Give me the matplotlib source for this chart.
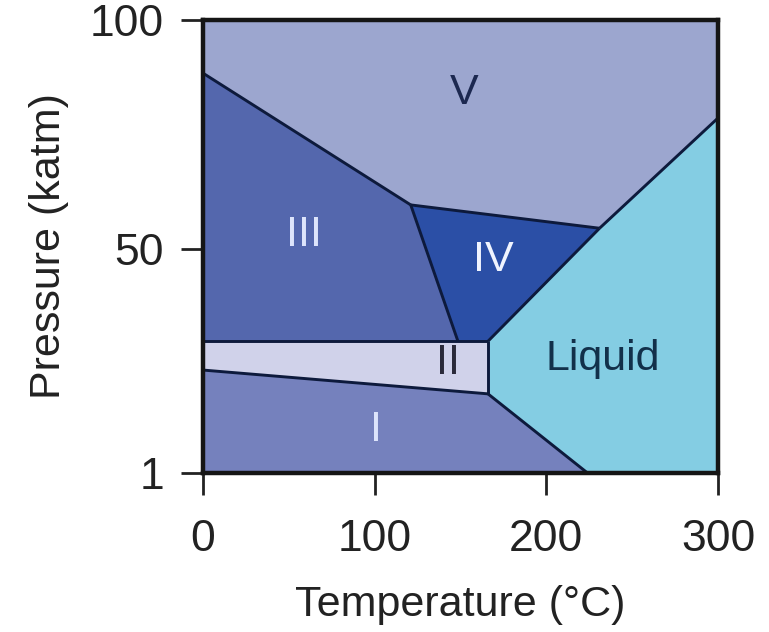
import matplotlib
matplotlib.use("Agg")
import matplotlib.pyplot as plt

plt.rcParams['font.family'] = ['Liberation Sans', 'DejaVu Sans']

# ---- data: key points (Temperature degC, Pressure katm) ----
A = (0, 88.4)      # V/III at left edge
B = (121, 59.6)    # III/IV/V triple point
C = (231, 54.5)    # IV/V/Liquid triple point
D = (300, 78.6)    # V/Liquid at right edge
E = (148.5, 29.8)  # II/III/IV triple point
F = (166, 29.8)    # II/IV/Liquid triple point
G = (166, 18.3)    # I/II/Liquid triple point
H = (0, 23.5)      # I/II at left edge
J = (224, 1.0)     # I/Liquid at bottom
II_left = (0, 29.8)

x_ticks = [0, 100, 200, 300]
y_ticks = [1, 50, 100]
x_range = (0, 300)
y_range = (1, 100)

regions = {
    "V": [(0, 100), (300, 100), D, C, B, A],
    "III": [A, B, E, II_left],
    "IV": [B, C, F, E],
    "II": [II_left, F, G, H],
    "I": [H, G, J, (0, 1)],
    "Liquid": [F, C, D, (300, 1), J, G],
}
region_colors = {
    "V": "#9ca6cf",
    "III": "#5467ad",
    "IV": "#2b4fa6",
    "II": "#d0d2ea",
    "I": "#7581bd",
    "Liquid": "#84cde3",
}
boundaries = [
    [A, B], [B, C], [C, D], [B, E], [C, F],
    [II_left, F], [F, G], [H, G], [G, J],
]
labels = [
    ("V", (152, 84), "#1c2850"),
    ("III", (59, 53), "#dde4fb"),
    ("IV", (169, 47.5), "#f0f4ff"),
    ("II", (143, 25), "#2a2a3a"),
    ("Liquid", (233, 26), "#12304a"),
    ("I", (101, 10.5), "#dde4fb"),
]

fig = plt.figure(figsize=(7.69, 6.32), dpi=100)
ax = fig.add_axes([0.264, 0.2516, 0.6697, 0.7166])

for name, pts in regions.items():
    xs = [p[0] for p in pts]
    ys = [p[1] for p in pts]
    ax.fill(xs, ys, color=region_colors[name], lw=0, zorder=1)

for seg in boundaries:
    ax.plot([seg[0][0], seg[1][0]], [seg[0][1], seg[1][1]],
            color="#0d1a3c", lw=2.1, zorder=2, solid_capstyle='butt')

for text, (tx, ty), col in labels:
    ax.text(tx, ty, text, color=col, fontsize=31, ha='center', va='center', zorder=3)

ax.set_xlim(*x_range)
ax.set_ylim(*y_range)
ax.set_xticks(x_ticks)
ax.set_yticks(y_ticks)
ax.tick_params(axis='both', direction='out', length=16, width=2,
               labelsize=32, colors='#222222')
ax.tick_params(axis='x', pad=17)
ax.tick_params(axis='y', pad=12)
for s in ax.spines.values():
    s.set_linewidth(3.2)
    s.set_color('#151515')

ax.set_xlabel("Temperature (°C)", fontsize=31, labelpad=18, color='#222222')
ax.set_ylabel("Pressure (katm)", fontsize=31, labelpad=15, color='#222222')

fig.savefig("out.png", dpi=100)
